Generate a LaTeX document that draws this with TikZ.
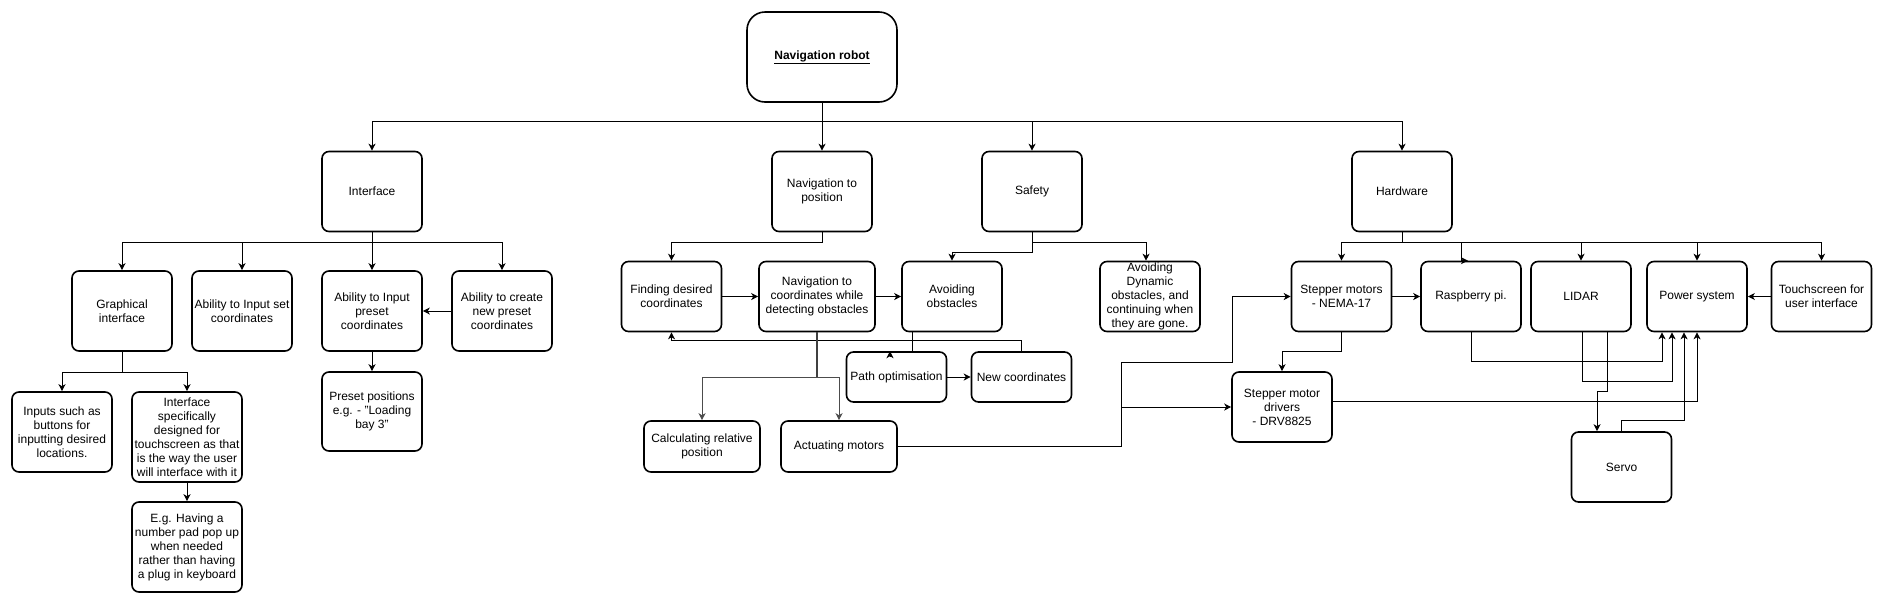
\documentclass[tikz,border=0pt]{standalone}
\usepackage{fontspec}
\setmainfont{Liberation Sans}
\usepackage{tikz}
\usetikzlibrary{calc,arrows.meta}

\begin{document}
\begin{tikzpicture}[x=1pt,y=-1pt,
  box/.style 2 args={draw, line width=1.6pt, rounded corners=7pt, align=center,
    inner sep=0pt, minimum width=#1pt, minimum height=#2pt,
    font=\fontsize{12}{14}\selectfont},
  arr/.style={line width=1pt, -{Stealth[length=7pt,width=7pt,inset=2pt]}},
  wire/.style={line width=1pt}]
  \useasboundingbox (0,0) rectangle (1883,603);

  %% Root and first level
  \node[box={150}{90}, rounded corners=18pt] (ROOT) at (822,57) {\underline{\textbf{Navigation robot}}};
  \node[box={100}{80}] (INTERFACE) at (372,191.5) {Interface};
  \node[box={100}{80}] (NAVPOS)    at (822,191.5) {Navigation to\\position};
  \node[box={100}{80}] (SAFETY)    at (1032,191.5) {Safety};
  \node[box={100}{80}] (HARDWARE)  at (1402,191.5) {Hardware};

  \draw[wire] (ROOT.south) -- ++(0,19) coordinate (TOPBUS);
  \foreach \n in {INTERFACE,NAVPOS,SAFETY,HARDWARE}
  {
    \draw[arr] (TOPBUS) -| (\n.north);
  }

  %% Interface branch
  \node[box={100}{80}] (GRAPHIC)   at (122,311) {Graphical\\interface};
  \node[box={100}{80}] (SETCOORD)  at (242,311) {Ability to Input set\\coordinates};
  \node[box={100}{80}] (PRESET)    at (372,311) {Ability to Input\\preset\\coordinates};
  \node[box={100}{80}] (NEWPRESET) at (502,311) {Ability to create\\new preset\\coordinates};
  \node[box={100}{79}] (PRESETPOS) at (372,411.5) {Preset positions\\e.g. - "Loading\\bay 3"};
  \node[box={100}{80}] (INPUTS)    at (62,432) {Inputs such as\\buttons for\\inputting desired\\locations.};
  \node[box={110}{90}] (TOUCHDES)  at (187,437) {Interface\\specifically\\designed for\\touchscreen as that\\is the way the user\\will interface with it};
  \node[box={110}{90}] (EGPAD)     at (187,547) {E.g. Having a\\number pad pop up\\when needed\\rather than having\\a plug in keyboard};

  \draw[wire] (INTERFACE.south) -- ++(0,10.5) coordinate (IFBUS);
  \foreach \n in {GRAPHIC,SETCOORD,PRESET,NEWPRESET}
  {
    \draw[arr] (IFBUS) -| (\n.north);
  }
  \draw[wire] (GRAPHIC.south) -- ++(0,21) coordinate (GRBUS);
  \foreach \n in {INPUTS,TOUCHDES}
  {
    \draw[arr] (GRBUS) -| (\n.north);
  }
  \draw[arr] (NEWPRESET.west) -- (PRESET.east);
  \draw[arr] (PRESET.south) -- (PRESETPOS.north);
  \draw[arr] (TOUCHDES.south) -- (EGPAD.north);

  %% Navigation and safety branch
  \node[box={100}{70}] (FINDING)  at (671.5,296.5) {Finding desired\\coordinates};
  \node[box={116}{70}] (NAVCOORD) at (817,296.5) {Navigation to\\coordinates while\\detecting obstacles};
  \node[box={100}{70}] (AVOID)    at (952,296.5) {Avoiding\\obstacles};
  \node[box={100}{70}] (DYNAMIC)  at (1150,296.5) {Avoiding\\Dynamic\\obstacles, and\\continuing when\\they are gone.};
  \node[box={100}{50}] (PATHOPT)  at (896.5,377) {Path optimisation};
  \node[box={100}{50}] (NEWCOORD) at (1021.5,377) {New coordinates};
  \node[box={116}{51}] (CALC)     at (702,446.5) {Calculating relative\\position};
  \node[box={116}{51}] (ACTUATE)  at (839,446.5) {Actuating motors};

  \draw[arr] (NAVPOS.south) -- ++(0,10) -| (FINDING.north);
  \draw[arr] (SAFETY.south) -- ++(0,10) -| ($(DYNAMIC.north)+(-4,0)$);
  \draw[arr] (SAFETY.south) -- ++(0,20) -| (AVOID.north);
  \draw[arr] (FINDING.east) -- (NAVCOORD.west);
  \draw[arr] (NAVCOORD.east) -- (AVOID.west);
  \draw[arr] (PATHOPT.east) -- (NEWCOORD.west);
  \draw[arr] (NEWCOORD.north) -- ++(0,-10.5) -| (FINDING.south);
  \draw[wire] ($(AVOID.south)+(-40,0)$) -- ($(PATHOPT.north)+(15.5,0)$);
  \draw[arr] ($(PATHOPT.north)+(-6.5,6)$) -- ($(PATHOPT.north)+(-6.5,0)$);

  \draw[wire, line width=1.5pt, black!75] (NAVCOORD.south) -- ++(0,45.5) coordinate (NCBUS);
  \foreach \n in {CALC,ACTUATE}
  {
    \draw[arr, black!70] (NCBUS) -| (\n.north);
  }

  %% Hardware branch
  \node[box={100}{70}] (STEPPER) at (1341.5,296.5) {Stepper motors\\- NEMA-17};
  \node[box={100}{70}] (RPI)     at (1471,296.5) {Raspberry pi.};
  \node[box={100}{70}] (LIDAR)   at (1581,296.5) {LIDAR};
  \node[box={100}{70}] (POWER)   at (1697,296.5) {Power system};
  \node[box={100}{70}] (TOUCH)   at (1821.5,296.5) {Touchscreen for\\user interface};
  \node[box={100}{70}] (DRIVERS) at (1282,407) {Stepper motor\\drivers\\- DRV8825};
  \node[box={100}{70}] (SERVO)   at (1621.5,467) {Servo};

  \draw[wire] (HARDWARE.south) -- ++(0,10.5) coordinate (HWBUS);
  \foreach \n in {STEPPER,LIDAR,POWER,TOUCH}
  {
    \draw[arr] (HWBUS) -| (\n.north);
  }
  \draw[arr] (HWBUS) -| ($(RPI.north)+(-10,0)$) -- ($(RPI.north)+(-3,0)$);

  \draw[arr] (STEPPER.east) -- (RPI.west);
  \draw[arr] (TOUCH.west) -- (POWER.east);
  \draw[arr] (STEPPER.south) -- ++(0,19.5) -| (DRIVERS.north);

  %% Motors to stepper and drivers
  \coordinate (ACTJOIN) at (1121,362);
  \coordinate (ACTUP)   at (1232,362);
  \draw[arr] (ACTUATE.east) -| (ACTJOIN) -- (ACTUP) |- (STEPPER.west);
  \draw[arr] (ACTJOIN |- DRIVERS.west) -- (DRIVERS.west);

  %% Everything into the power system
  \draw[arr] (RPI.south) -- ++(0,29.5) -| ($(POWER.south)+(-35,0)$);
  \draw[arr] ($(LIDAR.south)+(1,0)$) -- ++(0,49.5) -| ($(POWER.south)+(-25,0)$);
  \draw[arr] ($(LIDAR.south)+(26,0)$) -- ++(0,59.5) -| ($(SERVO.north)+(-24.5,0)$);
  \draw[arr] (SERVO.north) -- ++(0,-11) -| ($(POWER.south)+(-13,0)$);
  \draw[arr] ($(DRIVERS.east)+(0,-6)$) -| (POWER.south);
\end{tikzpicture}
\end{document}
